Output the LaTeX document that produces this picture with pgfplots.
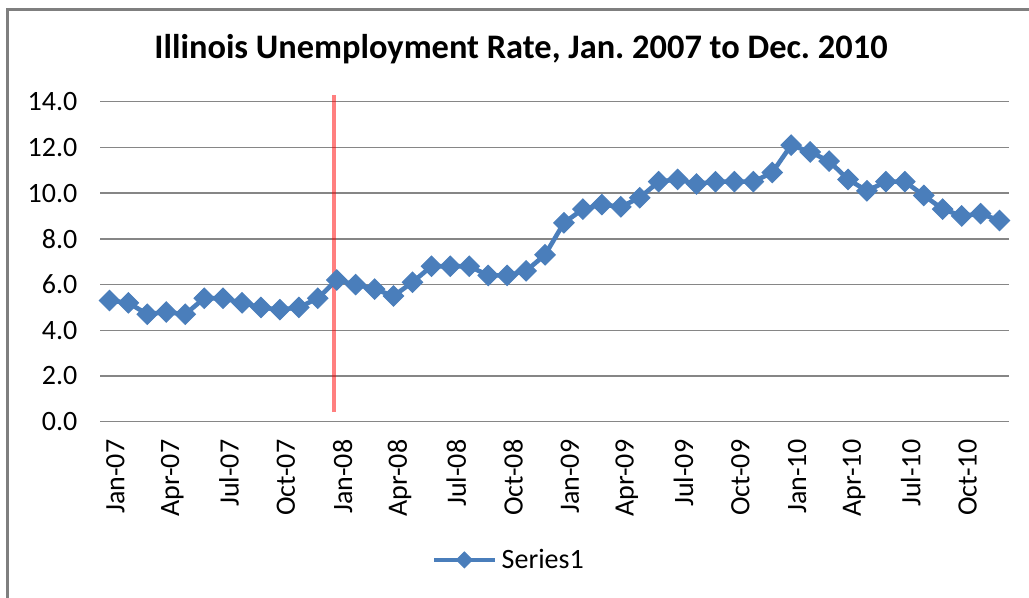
\documentclass[border=0pt]{standalone}
\usepackage{pgfplots}
\pgfplotsset{compat=1.18}
\usepackage{pgfplotstable}
\usepackage{fontspec}
\setmainfont{Carlito}
\frenchspacing
\definecolor{serblue}{HTML}{4A7EBB}
\definecolor{gridgray}{HTML}{868686}
\definecolor{framegray}{HTML}{7F7F7F}

\pgfplotstableread{
idx rate
0 5.3
1 5.2
2 4.7
3 4.8
4 4.7
5 5.4
6 5.4
7 5.2
8 5.0
9 4.9
10 5.0
11 5.4
12 6.2
13 6.0
14 5.8
15 5.5
16 6.1
17 6.8
18 6.8
19 6.8
20 6.4
21 6.4
22 6.6
23 7.3
24 8.7
25 9.3
26 9.5
27 9.4
28 9.8
29 10.5
30 10.6
31 10.4
32 10.5
33 10.5
34 10.5
35 10.9
36 12.1
37 11.8
38 11.4
39 10.6
40 10.1
41 10.5
42 10.5
43 9.9
44 9.3
45 9.0
46 9.1
47 8.8
}\ratedata

\begin{document}
\begin{tikzpicture}
\useasboundingbox (0,0) rectangle (514.5pt,299pt);
\draw[framegray, line width=1.5pt] (3.5pt,-10pt) -- (3.5pt,294pt) -- (530pt,294pt);
\node[font=\fontsize{17.2}{20}\selectfont\bfseries, anchor=base, inner sep=0pt] at (260.5pt,269.5pt) {Illinois Unemployment Rate, Jan. 2007 to Dec. 2010};
\begin{axis}[
  scale only axis,
  width=454.5pt, height=160pt,
  at={(50pt,88.15pt)}, anchor=south west,
  xmin=-0.5, xmax=47.5, ymin=0, ymax=14,
  clip=false,
  axis line style={draw=none},
  major tick length=0pt,
  tick style={draw=none},
  ymajorgrids,
  grid style={gridgray, line width=0.7pt},
  ytick={0,2,4,6,8,10,12,14},
  yticklabel={\pgfmathprintnumber[fixed,fixed zerofill,precision=1]{\tick}},
  xtick={0,3,6,9,12,15,18,21,24,27,30,33,36,39,42,45},
  xticklabels={Jan-07,Apr-07,Jul-07,Oct-07,Jan-08,Apr-08,Jul-08,Oct-08,Jan-09,Apr-09,Jul-09,Oct-09,Jan-10,Apr-10,Jul-10,Oct-10},
  /pgf/number format/assume math mode=true,
  tick label style={font=\fontsize{14}{16}\selectfont, black},
  yticklabel style={anchor=east, xshift=-7.8pt},
  xticklabel style={rotate=90, anchor=east, xshift=-5.5pt, yshift=-3pt},
  legend style={draw=none, fill=none, at={(axis description cs:0.451,-0.432)}, anchor=center, font=\fontsize{14}{16}\selectfont, inner sep=0pt},
  legend image code/.code={
    \draw[#1, mark=none] (0pt,0pt) -- (30.5pt,0pt);
    \draw[#1, only marks, mark size=2.8pt] plot coordinates {(15pt,0pt)};
  },
]
\addplot[serblue, line width=2.3pt, mark=square*, mark size=3.6pt, mark options={rotate=45, solid, fill=serblue, draw=serblue, line width=0.5pt}] table[x=idx, y=rate] {\ratedata};
\addlegendentry{Series1}
\addplot[red, opacity=0.5, line width=2pt, forget plot] coordinates {(11.88,0.42) (11.88,14.29)};
\end{axis}
\end{tikzpicture}
\end{document}
